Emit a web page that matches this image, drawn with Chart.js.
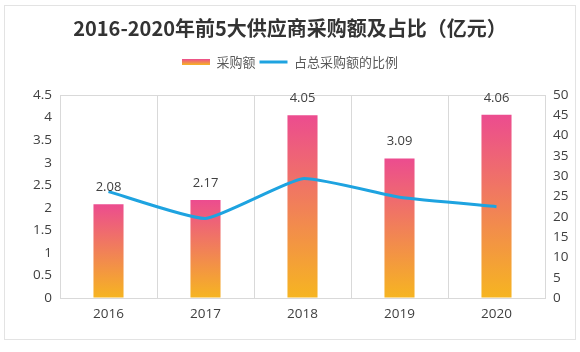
<!DOCTYPE html>
<html>
<head>
<meta charset="utf-8">
<script src="https://cdn.jsdelivr.net/npm/chart.js@4.4.1/dist/chart.umd.min.js"></script>
<style>
    body { margin: 0; background: #fff; }
    #wrap { position: relative; width: 580px; height: 352px; }
    #frame { position: absolute; left: 4px; top: 5px; width: 570px; height: 333px; border: 1px solid #e3e3e3; }
    #chart { position: absolute; left: 0; top: 0; }
</style>
</head>
<body>
<div id="wrap">
    <div id="frame"></div>
    <canvas id="chart" width="580" height="352"></canvas>
</div>
<script>
// data
const years = ['2016', '2017', '2018', '2019', '2020'];
const purchase = [2.08, 2.17, 4.05, 3.09, 4.06];      // 采购额（亿元）
const share = [26.2, 19.6, 29.4, 24.8, 22.5];          // 占总采购额的比例（%）
const leftTicks = [0, 4.5, 0.5];   // min, max, step
const rightTicks = [0, 50, 5];

const lineColor = '#1ea3e0';
const pink = '#ec4c8f';
const orange = '#f6b521';
const tickFont = {family: '"Open Sans", "Noto Sans CJK SC", sans-serif', size: 13.5};

function barGradient(c) {
    const chart = c.chart;
    if (!chart.chartArea || c.dataIndex === undefined) return '#f0906f';
    const top = chart.scales.y.getPixelForValue(purchase[c.dataIndex]);
    const bottom = chart.scales.y.getPixelForValue(0);
    const g = chart.ctx.createLinearGradient(0, top, 0, bottom);
    g.addColorStop(0, pink);
    g.addColorStop(1, orange);
    return g;
}

// extra room below the legend
const legendGap = {
    id: 'legendGap',
    beforeInit(chart) {
        if (!chart.legend) return;
        const fit = chart.legend.fit;
        chart.legend.fit = function () {
            fit.call(this);
            this.height += 16.5;
        };
    }
};

// value labels above bars
const barLabels = {
    id: 'barLabels',
    afterDatasetsDraw(chart) {
        const ctx = chart.ctx;
        const meta = chart.getDatasetMeta(0);
        ctx.save();
        ctx.font = '13px "Open Sans", "Noto Sans CJK SC", sans-serif';
        ctx.fillStyle = '#404040';
        ctx.textAlign = 'center';
        ctx.textBaseline = 'middle';
        meta.data.forEach((bar, i) => {
            ctx.fillText(purchase[i].toFixed(2), bar.x, bar.y - 17);
        });
        ctx.restore();
    }
};

const config = {
    type: 'bar',
    data: {
        labels: years,
        datasets: [
            {
                label: '采购额',
                data: purchase,
                backgroundColor: barGradient,
                categoryPercentage: 1,
                barPercentage: 0.31,
                yAxisID: 'y',
                order: 1
            },
            {
                type: 'line',
                label: '占总采购额的比例',
                data: share,
                borderColor: lineColor,
                borderWidth: 3,
                pointRadius: 0,
                tension: 0.15,
                fill: false,
                yAxisID: 'y1',
                order: 0
            }
        ]
    },
    options: {
        responsive: false,
        animation: false,
        layout: {padding: {top: 4, left: 0, right: 0, bottom: 0}},
        plugins: {
            title: {
                display: true,
                text: '2016-2020年前5大供应商采购额及占比（亿元）',
                color: '#333333',
                font: {family: '"Noto Sans CJK SC", sans-serif', size: 20, weight: 'bold'},
                padding: {top: 12, bottom: 11.5}
            },
            legend: {
                display: true,
                labels: {
                    usePointStyle: true,
                    pointStyleWidth: 28,
                    boxHeight: 6,
                    padding: 4,
                    color: '#595959',
                    font: {family: '"Noto Sans CJK SC", sans-serif', size: 13},
                    generateLabels(chart) {
                        const g = chart.ctx.createLinearGradient(0, 59, 0, 65);
                        g.addColorStop(0, pink);
                        g.addColorStop(1, orange);
                        return [
                            {text: '采购额', fillStyle: g, strokeStyle: g, lineWidth: 0, pointStyle: 'rect', datasetIndex: 0, hidden: false, fontColor: '#595959'},
                            {text: '占总采购额的比例', fillStyle: lineColor, strokeStyle: lineColor, lineWidth: 3, pointStyle: 'line', datasetIndex: 1, hidden: false, fontColor: '#595959'}
                        ];
                    }
                }
            },
            tooltip: {enabled: false}
        },
        scales: {
            x: {
                offset: true,
                grid: {color: '#d9d9d9', offset: true, drawTicks: false},
                border: {display: true, color: '#d9d9d9'},
                ticks: {color: '#404040', font: tickFont, padding: 8},
                afterFit(scale) { scale.height = 54; }
            },
            y: {
                position: 'left',
                min: leftTicks[0],
                max: leftTicks[1],
                ticks: {
                    stepSize: leftTicks[2],
                    color: '#404040',
                    font: tickFont,
                    padding: 8,
                    callback: (v) => String(v)
                },
                grid: {
                    drawTicks: false,
                    color: (c) => (c.tick && c.tick.value === leftTicks[1]) ? '#d9d9d9' : 'rgba(0,0,0,0)'
                },
                border: {display: true, color: '#d9d9d9'},
                afterFit(scale) { scale.width = 60; }
            },
            y1: {
                position: 'right',
                min: rightTicks[0],
                max: rightTicks[1],
                ticks: {stepSize: rightTicks[2], color: '#404040', font: tickFont, padding: 8},
                grid: {drawOnChartArea: false, drawTicks: false},
                border: {display: true, color: '#d9d9d9'},
                afterFit(scale) { scale.width = 35; }
            }
        }
    },
    plugins: [legendGap, barLabels]
};

new Chart(document.getElementById('chart').getContext('2d'), config);
</script>
</body>
</html>
